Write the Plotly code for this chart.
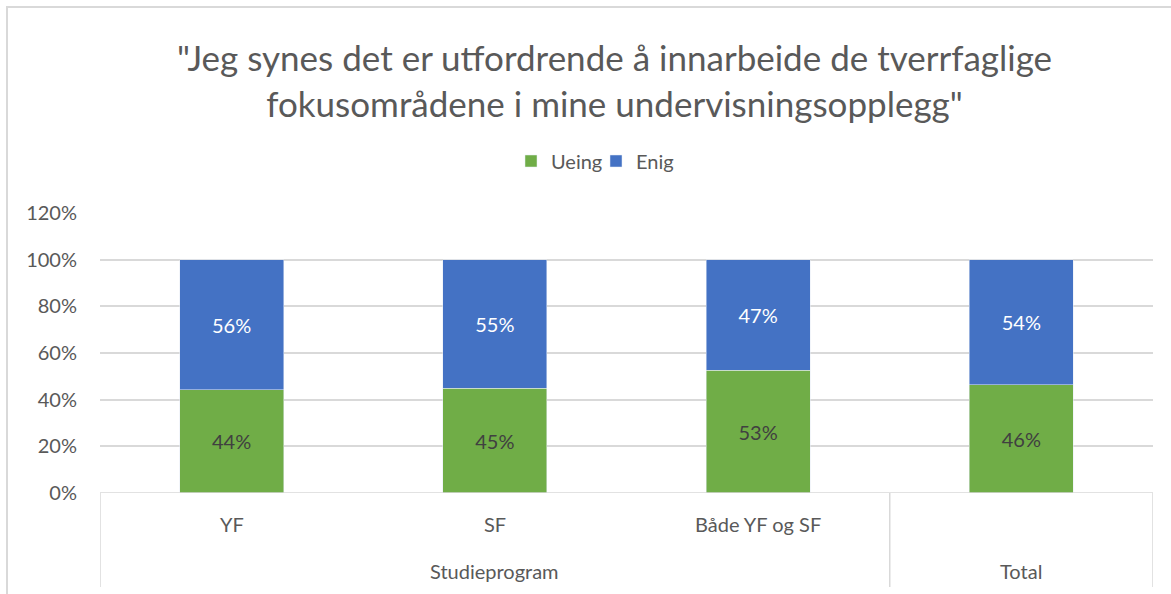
import plotly.graph_objects as go

categories = ["YF", "SF", "Både YF og SF", "Total"]
groups = ["Studieprogram", "Total"]
group_spans = [(0, 2), (3, 3)]
ueing = [0.442, 0.448, 0.527, 0.463]
enig = [0.558, 0.552, 0.473, 0.537]
tick_vals = [0, 0.2, 0.4, 0.6, 0.8, 1.0, 1.2]
tick_text = ["0%", "20%", "40%", "60%", "80%", "100%", "120%"]

FONT = "Lato"
GRAY = "#595959"
GRID = "#D9D9D9"
xpos = list(range(len(categories)))

fig = go.Figure()
fig.add_trace(go.Bar(
    x=xpos, y=ueing, name="Ueing", marker_color="#70AD47", width=0.395,
    texttemplate="%{y:.0%}", textposition="inside", insidetextanchor="middle",
    textfont=dict(family=FONT, size=20, color="#404040"),
))
fig.add_trace(go.Bar(
    x=xpos, y=enig, name="Enig", marker_color="#4472C4", width=0.395,
    texttemplate="%{y:.0%}", textposition="inside", insidetextanchor="middle",
    textfont=dict(family=FONT, size=20, color="white"),
))

shapes = []
# chart border
shapes.append(dict(type="rect", xref="paper", yref="paper",
                   x0=-93 / 1053, x1=1.3, y0=-0.5, y1=1 + 206 / 280,
                   line=dict(color=GRID, width=2), fillcolor="rgba(0,0,0,0)", layer="below"))
# axis line at 0
shapes.append(dict(type="line", xref="x", yref="y", x0=-0.5, x1=3.5, y0=0, y1=0,
                   line=dict(color=GRID, width=1.5)))
# multi-level dividers
for xv in [-0.5, 2.5, 3.5]:
    shapes.append(dict(type="line", xref="x", yref="paper", x0=xv, x1=xv,
                       y0=0, y1=-94 / 280, line=dict(color=GRID, width=1.5)))

annotations = []
for i, c in enumerate(categories):
    if c == "Total":
        continue
    annotations.append(dict(x=i, y=-31 / 280, xref="x", yref="paper", text=c, showarrow=False,
                            font=dict(family=FONT, size=20, color=GRAY), yanchor="middle"))
for g, (a, b) in zip(groups, group_spans):
    annotations.append(dict(x=(a + b) / 2, y=-78 / 280, xref="x", yref="paper", text=g,
                            showarrow=False, font=dict(family=FONT, size=20, color=GRAY),
                            yanchor="middle"))

fig.update_layout(
    width=1171, height=594,
    margin=dict(l=100, r=18, t=213, b=101),
    paper_bgcolor="white", plot_bgcolor="white",
    barmode="stack",
    title=dict(text='"Jeg synes det er utfordrende å innarbeide de tverrfaglige<br>fokusområdene i mine undervisningsopplegg"',
               x=614.5 / 1171, xanchor="center", y=1 - 71 / 594, yanchor="middle",
               font=dict(family=FONT, size=35, color=GRAY)),
    legend=dict(orientation="h", x=(596 - 100) / 1053, xanchor="center", y=1 + 52 / 280,
                yanchor="middle", font=dict(family=FONT, size=20, color=GRAY),
                traceorder="normal", entrywidth=40, entrywidthmode="pixels"),
    xaxis=dict(range=[-0.5, 3.5], showticklabels=False, showgrid=False, zeroline=False,
               showline=False, ticks=""),
    yaxis=dict(range=[0, 1.2], tickvals=tick_vals, ticktext=tick_text, showgrid=True,
               gridcolor=GRID, gridwidth=1.5, zeroline=False, showline=False,
               tickfont=dict(family=FONT, size=20, color=GRAY), ticklabelstandoff=22),
    shapes=shapes, annotations=annotations,
    showlegend=True,
)
fig.write_html("out.html", config={"displayModeBar": False},
               post_script="document.body.style.margin='0';document.body.style.overflow='hidden';")
